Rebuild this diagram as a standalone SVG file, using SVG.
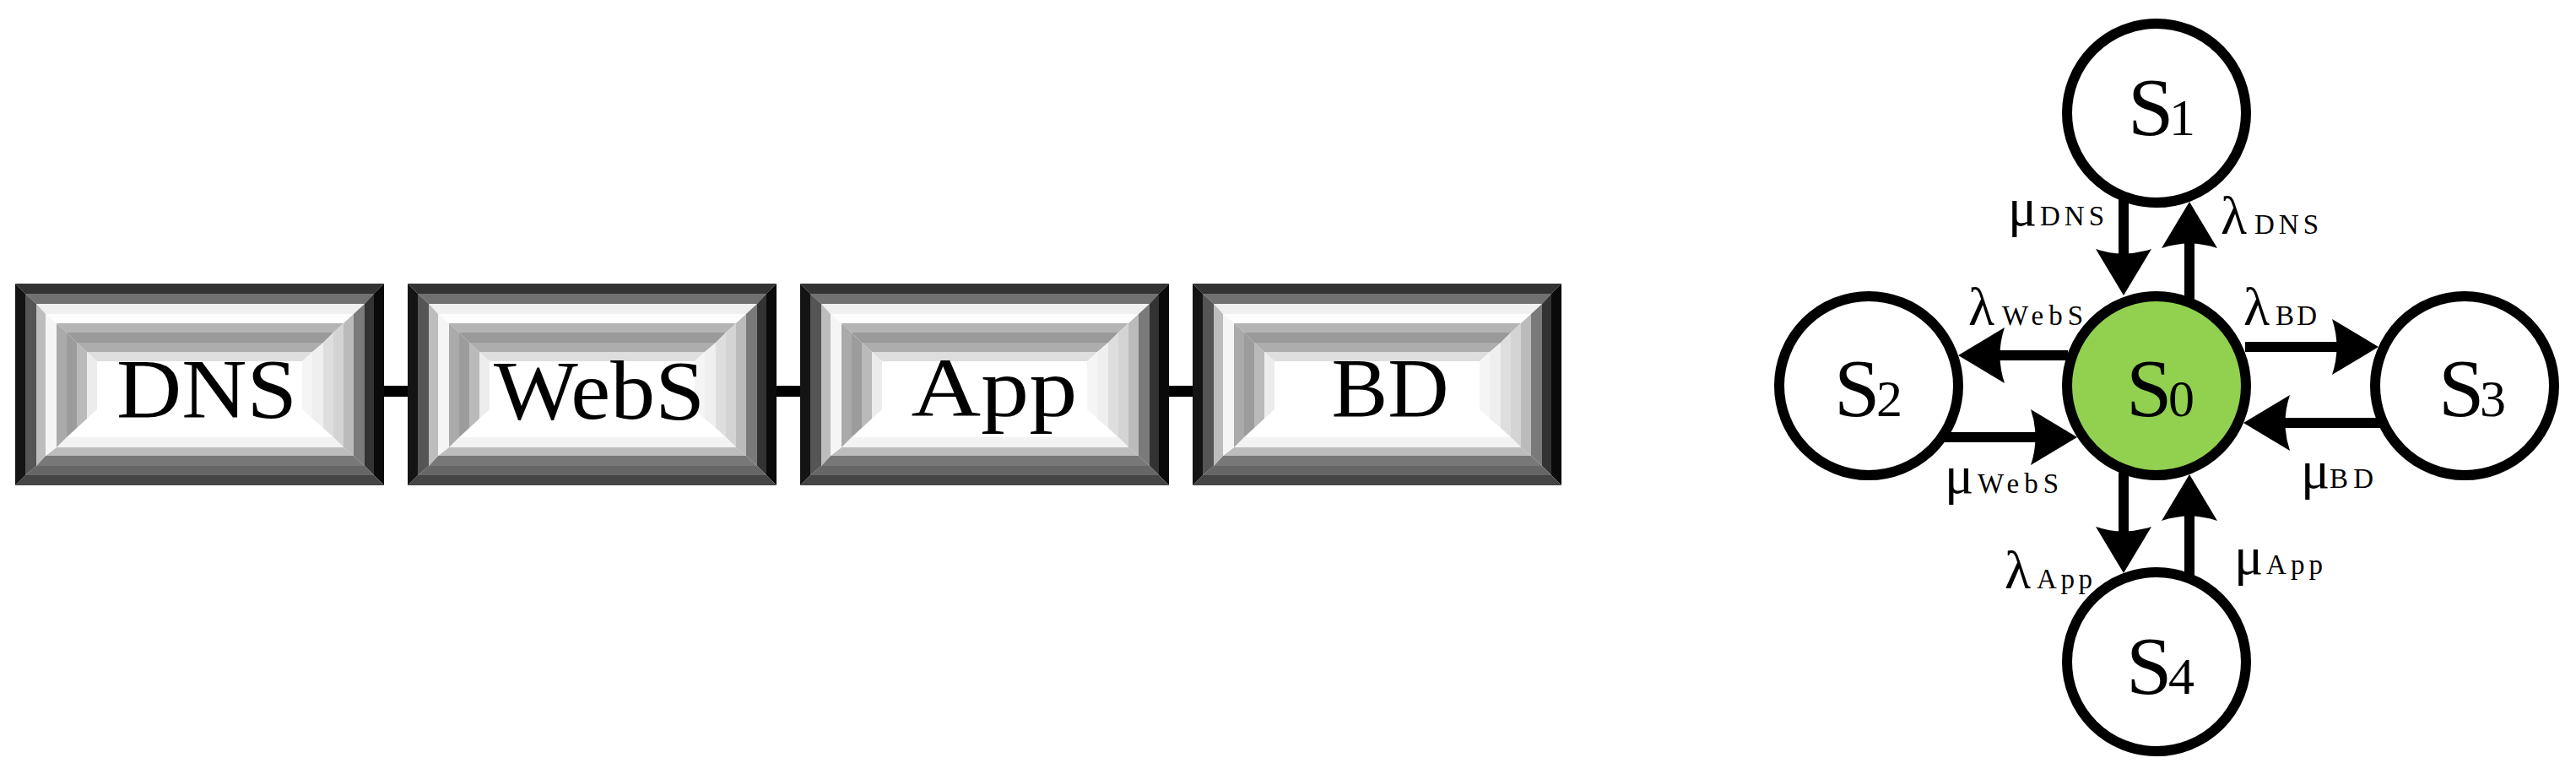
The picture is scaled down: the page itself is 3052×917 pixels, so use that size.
<svg xmlns="http://www.w3.org/2000/svg" xmlns:xlink="http://www.w3.org/1999/xlink" width="3052" height="917" viewBox="0 0 3052 917">
<style>
.t{font-family:"Liberation Serif","DejaVu Serif",serif;fill:#000}
.bt{font-size:100px;text-anchor:middle}
.sn{font-size:98px}
.sd{font-size:62px}
.gk{font-size:64px}
.sb{font-size:33px}
.st{fill:#fff;stroke:#000;stroke-width:12}
.s0{fill:#92d050;stroke:#000;stroke-width:12}
.ar{stroke:#000;stroke-width:12;fill:none;marker-end:url(#ah)}
.ln{stroke:#000;stroke-width:13;fill:none}
</style>
<defs>
<marker id="ah" viewBox="-12 -35 60 70" markerWidth="60" markerHeight="70" refX="0" refY="0" orient="auto" markerUnits="userSpaceOnUse">
<path d="M45,0 L-10,-33 Q1,0 -10,33 Z" fill="#000"/>
</marker>
<g id="bevel">
<rect x="0" y="0" width="437" height="239" fill="#fff"/>
<polygon points="0,0 437,0 425,12 12,12" fill="#333"/>
<polygon points="437,0 437,239 425,227 425,12" fill="#0a0a0a"/>
<polygon points="0,239 437,239 425,227 12,227" fill="#454545"/>
<polygon points="0,0 12,12 12,227 0,239" fill="#141414"/>
<polygon points="12,12 425,12 414,24 25,24" fill="#717171"/>
<polygon points="425,12 425,227 414,216 414,24" fill="#333"/>
<polygon points="12,227 425,227 414,216 25,216" fill="#666"/>
<polygon points="12,12 25,24 25,216 12,227" fill="#555"/>
<polygon points="25,24 414,24 401,36 36,36" fill="#f0f0f0"/>
<polygon points="414,24 414,216 401,204 401,36" fill="#7a7a7a"/>
<polygon points="25,216 414,216 401,204 36,204" fill="#787878"/>
<polygon points="25,24 36,36 36,204 25,216" fill="#bdbdbd"/>
<polygon points="36,36 401,36 389,47 49,47" fill="#fdfdfd"/>
<polygon points="401,36 401,204 389,194 389,47" fill="#bbb"/>
<polygon points="36,204 401,204 389,194 49,194" fill="#bdbdbd"/>
<polygon points="36,36 49,47 49,194 36,204" fill="#f5f5f5"/>
<polygon points="49,47 389,47 377,58 61,58" fill="#b4b4b4"/>
<polygon points="389,47 389,194 377,182 377,58" fill="#d4d4d4"/>
<polygon points="49,194 389,194 377,182 61,182" fill="#f3f3f3"/>
<polygon points="49,47 61,58 61,182 49,194" fill="#aaa"/>
<polygon points="61,58 377,58 365,70 73,70" fill="#9a9a9a"/>
<polygon points="377,58 377,182 365,171 365,70" fill="#dedede"/>
<polygon points="61,58 73,70 73,171 61,182" fill="#9c9c9c"/>
<polygon points="73,70 365,70 352,81 85,81" fill="#adadad"/>
<polygon points="365,70 365,171 352,160 352,81" fill="#efefef"/>
<polygon points="73,70 85,81 85,160 73,171" fill="#bababa"/>
<polygon points="85,81 352,81 340,92 97,92" fill="#dedede"/>
<polygon points="352,81 352,160 340,149 340,92" fill="#f5f5f5"/>
<polygon points="85,81 97,92 97,149 85,160" fill="#ececec"/>
</g>
</defs>
<rect width="3052" height="917" fill="#fff"/>
<g id="connectors">
<line class="ln" x1="450" y1="463.5" x2="488" y2="463.5"/>
<line class="ln" x1="915" y1="463.5" x2="953" y2="463.5"/>
<line class="ln" x1="1380" y1="463.5" x2="1418" y2="463.5"/>
<line class="ar" x1="2516" y1="236" x2="2516" y2="305"/>
<line class="ar" x1="2594" y1="365" x2="2594" y2="284"/>
<line class="ar" x1="2450" y1="421" x2="2365" y2="421"/>
<line class="ar" x1="2300" y1="518" x2="2416" y2="518"/>
<line class="ar" x1="2660" y1="411" x2="2773" y2="411"/>
<line class="ar" x1="2830" y1="501" x2="2703" y2="501"/>
<line class="ar" x1="2516" y1="560" x2="2516" y2="634"/>
<line class="ar" x1="2594" y1="690" x2="2594" y2="607"/>
</g>
<g id="box-dns">
<use href="#bevel" xlink:href="#bevel" transform="translate(18,336)"/>
<text class="t bt" x="245" y="494" textLength="214" lengthAdjust="spacingAndGlyphs">DNS</text>
</g>
<g id="box-webs">
<use href="#bevel" xlink:href="#bevel" transform="translate(483,336)"/>
<text class="t bt" x="710" y="496" textLength="250" lengthAdjust="spacingAndGlyphs">WebS</text>
</g>
<g id="box-app">
<use href="#bevel" xlink:href="#bevel" transform="translate(948,336)"/>
<text class="t bt" x="1178" y="493" textLength="197" lengthAdjust="spacingAndGlyphs">App</text>
</g>
<g id="box-bd">
<use href="#bevel" xlink:href="#bevel" transform="translate(1413,336)"/>
<text class="t bt" x="1647" y="493" textLength="139" lengthAdjust="spacingAndGlyphs">BD</text>
</g>
<g id="S0">
<circle class="s0" cx="2555" cy="457" r="106"/>
<text class="t" y="493"><tspan class="sn" x="2519">S</tspan><tspan class="sd" x="2569">0</tspan></text>
</g>
<g id="S1">
<circle class="st" cx="2555" cy="134" r="106"/>
<text class="t" y="160"><tspan class="sn" x="2521">S</tspan><tspan class="sd" x="2570">1</tspan></text>
</g>
<g id="S2">
<circle class="st" cx="2214" cy="457" r="106"/>
<text class="t" y="493"><tspan class="sn" x="2173">S</tspan><tspan class="sd" x="2223">2</tspan></text>
</g>
<g id="S3">
<circle class="st" cx="2920" cy="457" r="106"/>
<text class="t" y="493"><tspan class="sn" x="2889">S</tspan><tspan class="sd" x="2938">3</tspan></text>
</g>
<g id="S4">
<circle class="st" cx="2555" cy="784" r="106"/>
<text class="t" y="822"><tspan class="sn" x="2519">S</tspan><tspan class="sd" x="2569">4</tspan></text>
</g>
<g id="labels">
<text class="t" y="267"><tspan class="gk" x="2379">μ</tspan><tspan class="sb" x="2417" textLength="76">DNS</tspan></text>
<text class="t" y="277"><tspan class="gk" x="2631">λ</tspan><tspan class="sb" x="2671" textLength="76">DNS</tspan></text>
<text class="t" y="385"><tspan class="gk" x="2332">λ</tspan><tspan class="sb" x="2372" textLength="96">WebS</tspan></text>
<text class="t" y="385"><tspan class="gk" x="2658">λ</tspan><tspan class="sb" x="2696" textLength="49">BD</tspan></text>
<text class="t" y="584"><tspan class="gk" x="2304">μ</tspan><tspan class="sb" x="2343" textLength="96">WebS</tspan></text>
<text class="t" y="578"><tspan class="gk" x="2726">μ</tspan><tspan class="sb" x="2760" textLength="52">BD</tspan></text>
<text class="t" y="697"><tspan class="gk" x="2375">λ</tspan><tspan class="sb" x="2413" textLength="66">App</tspan></text>
<text class="t" y="680"><tspan class="gk" x="2647">μ</tspan><tspan class="sb" x="2685" textLength="67">App</tspan></text>
</g>
</svg>
